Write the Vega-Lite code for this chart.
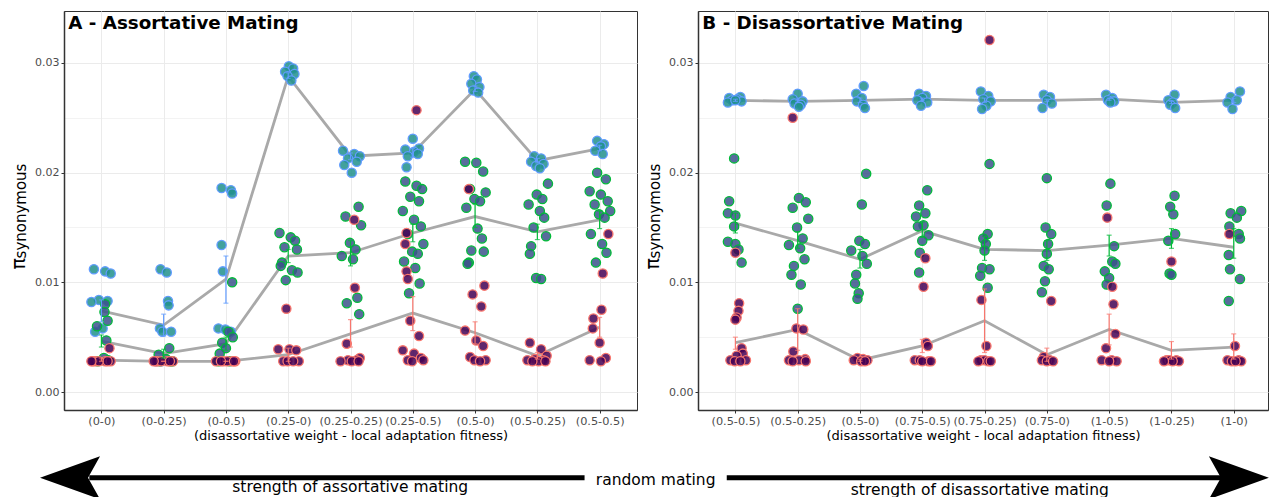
{
"$schema": "https://vega.github.io/schema/vega-lite/v6.json",
"padding": {"left": 9, "top": 10, "right": 0, "bottom": 0},
"background": "white",
"config": {
 "font": "DejaVu Sans",
 "view": {"stroke": "#333333", "strokeWidth": 1},
 "axis": {"labelColor": "#4D4D4D", "labelFontSize": 11.3, "labelFont": "DejaVu Sans", "tickColor": "#333333", "tickSize": 3, "labelPadding": 2, "domainColor": "#333333", "domainWidth": 1.5, "gridColor": "#EBEBEB", "titleFont": "DejaVu Sans", "titleFontWeight": "normal", "titleColor": "#000000"},
 "axisX": {"titleFontSize": 13, "titlePadding": 3},
 "axisY": {"titleFontSize": 15, "titlePadding": 6, "labelFontSize": 11}
},
"datasets": {
"pts": [
{"p":"A","x":0.88,"y":0.0112,"g":"b"},{"p":"A","x":1.06,"y":0.0110,"g":"b"},{"p":"A","x":1.15,"y":0.0108,"g":"b"},{"p":"A","x":0.96,"y":0.0084,"g":"b"},{"p":"A","x":1.10,"y":0.0083,"g":"b"},{"p":"A","x":0.84,"y":0.0082,"g":"b"},{"p":"A","x":1.02,"y":0.0058,"g":"b"},{"p":"A","x":0.90,"y":0.0055,"g":"b"},
{"p":"A","x":1.06,"y":0.0080,"g":"g"},{"p":"A","x":1.05,"y":0.0073,"g":"g"},{"p":"A","x":1.10,"y":0.0065,"g":"g"},{"p":"A","x":0.93,"y":0.0060,"g":"g"},{"p":"A","x":1.08,"y":0.0047,"g":"g"},{"p":"A","x":1.04,"y":0.0031,"g":"g"},{"p":"A","x":1.11,"y":0.0029,"g":"g"},{"p":"A","x":0.94,"y":0.0028,"g":"g"},
{"p":"A","x":1.13,"y":0.0040,"g":"r"},{"p":"A","x":0.90,"y":0.0028,"g":"r"},{"p":"A","x":0.86,"y":0.0028,"g":"r"},{"p":"A","x":1.06,"y":0.0028,"g":"r"},{"p":"A","x":1.15,"y":0.0028,"g":"r"},{"p":"A","x":0.96,"y":0.0028,"g":"r"},{"p":"A","x":1.10,"y":0.0028,"g":"r"},{"p":"A","x":0.84,"y":0.0028,"g":"r"},
{"p":"A","x":1.95,"y":0.0112,"g":"b"},{"p":"A","x":2.05,"y":0.0109,"g":"b"},{"p":"A","x":2.07,"y":0.0083,"g":"b"},{"p":"A","x":2.08,"y":0.0079,"g":"b"},{"p":"A","x":1.94,"y":0.0058,"g":"b"},{"p":"A","x":1.98,"y":0.0055,"g":"b"},{"p":"A","x":2.12,"y":0.0055,"g":"b"},{"p":"A","x":1.88,"y":0.0028,"g":"b"},{"p":"A","x":1.96,"y":0.0028,"g":"b"},
{"p":"A","x":2.09,"y":0.0040,"g":"g"},{"p":"A","x":1.92,"y":0.0034,"g":"g"},{"p":"A","x":2.04,"y":0.0030,"g":"g"},{"p":"A","x":2.11,"y":0.0028,"g":"g"},{"p":"A","x":1.94,"y":0.0028,"g":"g"},{"p":"A","x":2.14,"y":0.0028,"g":"g"},
{"p":"A","x":1.90,"y":0.0028,"g":"r"},{"p":"A","x":1.88,"y":0.0028,"g":"r"},{"p":"A","x":2.06,"y":0.0028,"g":"r"},{"p":"A","x":2.15,"y":0.0028,"g":"r"},{"p":"A","x":1.96,"y":0.0028,"g":"r"},{"p":"A","x":2.10,"y":0.0028,"g":"r"},{"p":"A","x":1.84,"y":0.0028,"g":"r"},
{"p":"A","x":2.93,"y":0.0186,"g":"b"},{"p":"A","x":3.08,"y":0.0184,"g":"b"},{"p":"A","x":3.10,"y":0.0181,"g":"b"},{"p":"A","x":2.93,"y":0.0134,"g":"b"},{"p":"A","x":2.95,"y":0.0110,"g":"b"},{"p":"A","x":2.88,"y":0.0058,"g":"b"},{"p":"A","x":2.99,"y":0.0057,"g":"b"},{"p":"A","x":3.08,"y":0.0055,"g":"b"},
{"p":"A","x":3.10,"y":0.0100,"g":"g"},{"p":"A","x":3.04,"y":0.0055,"g":"g"},{"p":"A","x":3.11,"y":0.0050,"g":"g"},{"p":"A","x":2.94,"y":0.0045,"g":"g"},{"p":"A","x":3.00,"y":0.0040,"g":"g"},{"p":"A","x":2.90,"y":0.0035,"g":"g"},{"p":"A","x":2.88,"y":0.0028,"g":"g"},{"p":"A","x":3.06,"y":0.0028,"g":"g"},
{"p":"A","x":3.15,"y":0.0028,"g":"r"},{"p":"A","x":2.96,"y":0.0028,"g":"r"},{"p":"A","x":3.10,"y":0.0028,"g":"r"},{"p":"A","x":2.84,"y":0.0028,"g":"r"},{"p":"A","x":3.02,"y":0.0028,"g":"r"},{"p":"A","x":3.13,"y":0.0028,"g":"r"},{"p":"A","x":2.92,"y":0.0028,"g":"r"},
{"p":"A","x":4.01,"y":0.0297,"g":"b"},{"p":"A","x":4.08,"y":0.0295,"g":"b"},{"p":"A","x":3.95,"y":0.0292,"g":"b"},{"p":"A","x":4.10,"y":0.0290,"g":"b"},{"p":"A","x":3.99,"y":0.0288,"g":"b"},{"p":"A","x":4.05,"y":0.0284,"g":"b"},
{"p":"A","x":3.86,"y":0.0145,"g":"g"},{"p":"A","x":4.04,"y":0.0141,"g":"g"},{"p":"A","x":4.11,"y":0.0138,"g":"g"},{"p":"A","x":3.94,"y":0.0132,"g":"g"},{"p":"A","x":4.14,"y":0.0130,"g":"g"},{"p":"A","x":3.90,"y":0.0118,"g":"g"},{"p":"A","x":3.88,"y":0.0115,"g":"g"},{"p":"A","x":4.06,"y":0.0111,"g":"g"},{"p":"A","x":4.15,"y":0.0109,"g":"g"},{"p":"A","x":3.96,"y":0.0102,"g":"g"},
{"p":"A","x":3.97,"y":0.0076,"g":"r"},{"p":"A","x":3.84,"y":0.0039,"g":"r"},{"p":"A","x":4.02,"y":0.0039,"g":"r"},{"p":"A","x":4.13,"y":0.0038,"g":"r"},{"p":"A","x":3.92,"y":0.0028,"g":"r"},{"p":"A","x":4.17,"y":0.0028,"g":"r"},{"p":"A","x":3.99,"y":0.0028,"g":"r"},{"p":"A","x":4.08,"y":0.0028,"g":"r"},
{"p":"A","x":4.88,"y":0.0220,"g":"b"},{"p":"A","x":5.06,"y":0.0217,"g":"b"},{"p":"A","x":5.15,"y":0.0215,"g":"b"},{"p":"A","x":4.96,"y":0.0213,"g":"b"},{"p":"A","x":5.10,"y":0.0210,"g":"b"},{"p":"A","x":4.90,"y":0.0207,"g":"b"},{"p":"A","x":5.02,"y":0.0200,"g":"b"},
{"p":"A","x":5.13,"y":0.0169,"g":"g"},{"p":"A","x":4.92,"y":0.0160,"g":"g"},{"p":"A","x":5.17,"y":0.0152,"g":"g"},{"p":"A","x":4.99,"y":0.0136,"g":"g"},{"p":"A","x":5.08,"y":0.0130,"g":"g"},{"p":"A","x":4.86,"y":0.0124,"g":"g"},{"p":"A","x":5.04,"y":0.0121,"g":"g"},{"p":"A","x":5.11,"y":0.0086,"g":"g"},{"p":"A","x":4.94,"y":0.0081,"g":"g"},{"p":"A","x":5.14,"y":0.0071,"g":"g"},
{"p":"A","x":5.06,"y":0.0157,"g":"r"},{"p":"A","x":5.07,"y":0.0095,"g":"r"},{"p":"A","x":4.94,"y":0.0044,"g":"r"},{"p":"A","x":5.15,"y":0.0031,"g":"r"},{"p":"A","x":4.96,"y":0.0029,"g":"r"},{"p":"A","x":5.10,"y":0.0029,"g":"r"},{"p":"A","x":4.84,"y":0.0028,"g":"r"},{"p":"A","x":5.02,"y":0.0028,"g":"r"},{"p":"A","x":5.13,"y":0.0028,"g":"r"},
{"p":"A","x":6.00,"y":0.0231,"g":"b"},{"p":"A","x":6.10,"y":0.0222,"g":"b"},{"p":"A","x":5.88,"y":0.0221,"g":"b"},{"p":"A","x":6.02,"y":0.0219,"g":"b"},{"p":"A","x":6.08,"y":0.0217,"g":"b"},{"p":"A","x":5.92,"y":0.0215,"g":"b"},{"p":"A","x":5.90,"y":0.0205,"g":"b"},
{"p":"A","x":5.88,"y":0.0192,"g":"g"},{"p":"A","x":6.06,"y":0.0188,"g":"g"},{"p":"A","x":6.15,"y":0.0185,"g":"g"},{"p":"A","x":5.96,"y":0.0178,"g":"g"},{"p":"A","x":6.10,"y":0.0174,"g":"g"},{"p":"A","x":5.84,"y":0.0165,"g":"g"},{"p":"A","x":6.02,"y":0.0157,"g":"g"},{"p":"A","x":6.13,"y":0.0151,"g":"g"},{"p":"A","x":5.92,"y":0.0144,"g":"g"},{"p":"A","x":6.17,"y":0.0135,"g":"g"},{"p":"A","x":5.99,"y":0.0128,"g":"g"},{"p":"A","x":6.08,"y":0.0126,"g":"g"},{"p":"A","x":5.86,"y":0.0119,"g":"g"},{"p":"A","x":6.04,"y":0.0113,"g":"g"},{"p":"A","x":6.11,"y":0.0099,"g":"g"},{"p":"A","x":5.94,"y":0.0090,"g":"g"},
{"p":"A","x":6.06,"y":0.0257,"g":"r"},{"p":"A","x":5.90,"y":0.0145,"g":"r"},{"p":"A","x":5.88,"y":0.0135,"g":"r"},{"p":"A","x":5.90,"y":0.0110,"g":"r"},{"p":"A","x":5.92,"y":0.0103,"g":"r"},{"p":"A","x":5.96,"y":0.0065,"g":"r"},{"p":"A","x":6.10,"y":0.0051,"g":"r"},{"p":"A","x":5.84,"y":0.0038,"g":"r"},{"p":"A","x":6.02,"y":0.0035,"g":"r"},{"p":"A","x":6.13,"y":0.0031,"g":"r"},{"p":"A","x":5.92,"y":0.0029,"g":"r"},{"p":"A","x":6.17,"y":0.0029,"g":"r"},{"p":"A","x":5.99,"y":0.0028,"g":"r"},
{"p":"A","x":6.98,"y":0.0288,"g":"b"},{"p":"A","x":7.03,"y":0.0285,"g":"b"},{"p":"A","x":6.94,"y":0.0281,"g":"b"},{"p":"A","x":7.07,"y":0.0278,"g":"b"},{"p":"A","x":6.97,"y":0.0275,"g":"b"},{"p":"A","x":7.05,"y":0.0273,"g":"b"},
{"p":"A","x":6.84,"y":0.0210,"g":"g"},{"p":"A","x":7.02,"y":0.0209,"g":"g"},{"p":"A","x":7.13,"y":0.0201,"g":"g"},{"p":"A","x":6.92,"y":0.0185,"g":"g"},{"p":"A","x":7.17,"y":0.0182,"g":"g"},{"p":"A","x":6.99,"y":0.0176,"g":"g"},{"p":"A","x":7.08,"y":0.0174,"g":"g"},{"p":"A","x":6.86,"y":0.0168,"g":"g"},{"p":"A","x":7.04,"y":0.0149,"g":"g"},{"p":"A","x":7.11,"y":0.0140,"g":"g"},{"p":"A","x":6.94,"y":0.0129,"g":"g"},{"p":"A","x":7.14,"y":0.0128,"g":"g"},{"p":"A","x":6.90,"y":0.0118,"g":"g"},{"p":"A","x":6.88,"y":0.0117,"g":"g"},
{"p":"A","x":6.90,"y":0.0185,"g":"r"},{"p":"A","x":7.15,"y":0.0097,"g":"r"},{"p":"A","x":6.96,"y":0.0089,"g":"r"},{"p":"A","x":7.10,"y":0.0078,"g":"r"},{"p":"A","x":6.84,"y":0.0056,"g":"r"},{"p":"A","x":7.02,"y":0.0047,"g":"r"},{"p":"A","x":7.13,"y":0.0042,"g":"r"},{"p":"A","x":6.92,"y":0.0032,"g":"r"},{"p":"A","x":7.17,"y":0.0029,"g":"r"},{"p":"A","x":6.99,"y":0.0029,"g":"r"},{"p":"A","x":7.08,"y":0.0028,"g":"r"},
{"p":"A","x":7.95,"y":0.0215,"g":"b"},{"p":"A","x":8.06,"y":0.0213,"g":"b"},{"p":"A","x":7.90,"y":0.0210,"g":"b"},{"p":"A","x":8.10,"y":0.0208,"g":"b"},{"p":"A","x":7.98,"y":0.0206,"g":"b"},{"p":"A","x":8.04,"y":0.0204,"g":"b"},
{"p":"A","x":8.17,"y":0.0190,"g":"g"},{"p":"A","x":7.99,"y":0.0180,"g":"g"},{"p":"A","x":8.08,"y":0.0176,"g":"g"},{"p":"A","x":7.86,"y":0.0171,"g":"g"},{"p":"A","x":8.04,"y":0.0165,"g":"g"},{"p":"A","x":8.11,"y":0.0159,"g":"g"},{"p":"A","x":7.94,"y":0.0150,"g":"g"},{"p":"A","x":8.14,"y":0.0142,"g":"g"},{"p":"A","x":7.90,"y":0.0133,"g":"g"},{"p":"A","x":7.88,"y":0.0126,"g":"g"},{"p":"A","x":7.98,"y":0.0104,"g":"g"},{"p":"A","x":8.06,"y":0.0103,"g":"g"},
{"p":"A","x":7.88,"y":0.0045,"g":"r"},{"p":"A","x":8.06,"y":0.0039,"g":"r"},{"p":"A","x":8.15,"y":0.0033,"g":"r"},{"p":"A","x":7.96,"y":0.0030,"g":"r"},{"p":"A","x":8.10,"y":0.0029,"g":"r"},{"p":"A","x":7.84,"y":0.0029,"g":"r"},{"p":"A","x":8.02,"y":0.0028,"g":"r"},{"p":"A","x":8.13,"y":0.0028,"g":"r"},{"p":"A","x":7.92,"y":0.0028,"g":"r"},
{"p":"A","x":8.96,"y":0.0229,"g":"b"},{"p":"A","x":9.07,"y":0.0226,"g":"b"},{"p":"A","x":9.02,"y":0.0224,"g":"b"},{"p":"A","x":8.93,"y":0.0220,"g":"b"},{"p":"A","x":9.05,"y":0.0217,"g":"b"},
{"p":"A","x":8.96,"y":0.0200,"g":"g"},{"p":"A","x":9.10,"y":0.0194,"g":"g"},{"p":"A","x":8.84,"y":0.0183,"g":"g"},{"p":"A","x":9.02,"y":0.0180,"g":"g"},{"p":"A","x":9.13,"y":0.0174,"g":"g"},{"p":"A","x":8.92,"y":0.0171,"g":"g"},{"p":"A","x":9.17,"y":0.0165,"g":"g"},{"p":"A","x":8.99,"y":0.0162,"g":"g"},{"p":"A","x":9.08,"y":0.0159,"g":"g"},{"p":"A","x":8.86,"y":0.0144,"g":"g"},{"p":"A","x":9.04,"y":0.0135,"g":"g"},{"p":"A","x":9.11,"y":0.0127,"g":"g"},{"p":"A","x":8.94,"y":0.0118,"g":"g"},
{"p":"A","x":9.14,"y":0.0144,"g":"r"},{"p":"A","x":9.05,"y":0.0108,"g":"r"},{"p":"A","x":9.03,"y":0.0075,"g":"r"},{"p":"A","x":8.90,"y":0.0067,"g":"r"},{"p":"A","x":8.89,"y":0.0058,"g":"r"},{"p":"A","x":9.00,"y":0.0045,"g":"r"},{"p":"A","x":9.10,"y":0.0031,"g":"r"},{"p":"A","x":8.84,"y":0.0029,"g":"r"},{"p":"A","x":9.02,"y":0.0028,"g":"r"},
{"p":"B","x":1.08,"y":0.0269,"g":"b"},{"p":"B","x":0.90,"y":0.0268,"g":"b"},{"p":"B","x":1.03,"y":0.0267,"g":"b"},{"p":"B","x":0.95,"y":0.0266,"g":"b"},{"p":"B","x":1.10,"y":0.0265,"g":"b"},{"p":"B","x":0.88,"y":0.0264,"g":"b"},{"p":"B","x":1.00,"y":0.0266,"g":"b"},
{"p":"B","x":0.98,"y":0.0213,"g":"g"},{"p":"B","x":0.90,"y":0.0174,"g":"g"},{"p":"B","x":0.88,"y":0.0163,"g":"g"},{"p":"B","x":1.00,"y":0.0161,"g":"g"},{"p":"B","x":0.98,"y":0.0151,"g":"g"},{"p":"B","x":0.88,"y":0.0137,"g":"g"},{"p":"B","x":1.00,"y":0.0135,"g":"g"},{"p":"B","x":1.05,"y":0.0130,"g":"g"},{"p":"B","x":1.10,"y":0.0118,"g":"g"},
{"p":"B","x":1.00,"y":0.0127,"g":"r"},{"p":"B","x":1.06,"y":0.0081,"g":"r"},{"p":"B","x":1.05,"y":0.0074,"g":"r"},{"p":"B","x":1.02,"y":0.0068,"g":"r"},{"p":"B","x":1.00,"y":0.0066,"g":"r"},{"p":"B","x":1.10,"y":0.0040,"g":"r"},{"p":"B","x":1.12,"y":0.0035,"g":"r"},{"p":"B","x":1.02,"y":0.0033,"g":"r"},{"p":"B","x":0.92,"y":0.0029,"g":"r"},{"p":"B","x":1.17,"y":0.0029,"g":"r"},{"p":"B","x":0.99,"y":0.0028,"g":"r"},{"p":"B","x":1.08,"y":0.0028,"g":"r"},
{"p":"B","x":2.00,"y":0.0272,"g":"b"},{"p":"B","x":1.92,"y":0.0267,"g":"b"},{"p":"B","x":2.08,"y":0.0265,"g":"b"},{"p":"B","x":1.95,"y":0.0263,"g":"b"},{"p":"B","x":2.05,"y":0.0262,"g":"b"},{"p":"B","x":2.02,"y":0.0260,"g":"b"},
{"p":"B","x":2.02,"y":0.0177,"g":"g"},{"p":"B","x":2.13,"y":0.0173,"g":"g"},{"p":"B","x":1.92,"y":0.0168,"g":"g"},{"p":"B","x":2.17,"y":0.0158,"g":"g"},{"p":"B","x":1.99,"y":0.0150,"g":"g"},{"p":"B","x":2.08,"y":0.0140,"g":"g"},{"p":"B","x":1.86,"y":0.0134,"g":"g"},{"p":"B","x":2.04,"y":0.0131,"g":"g"},{"p":"B","x":2.11,"y":0.0121,"g":"g"},{"p":"B","x":1.94,"y":0.0115,"g":"g"},{"p":"B","x":1.90,"y":0.0107,"g":"g"},{"p":"B","x":2.05,"y":0.0098,"g":"g"},{"p":"B","x":2.00,"y":0.0076,"g":"g"},
{"p":"B","x":1.92,"y":0.0250,"g":"r"},{"p":"B","x":1.98,"y":0.0058,"g":"r"},{"p":"B","x":2.09,"y":0.0057,"g":"r"},{"p":"B","x":1.93,"y":0.0037,"g":"r"},{"p":"B","x":2.12,"y":0.0030,"g":"r"},{"p":"B","x":1.86,"y":0.0029,"g":"r"},{"p":"B","x":2.02,"y":0.0029,"g":"r"},{"p":"B","x":2.13,"y":0.0028,"g":"r"},{"p":"B","x":1.92,"y":0.0028,"g":"r"},
{"p":"B","x":3.06,"y":0.0279,"g":"b"},{"p":"B","x":2.94,"y":0.0272,"g":"b"},{"p":"B","x":3.03,"y":0.0268,"g":"b"},{"p":"B","x":2.95,"y":0.0265,"g":"b"},{"p":"B","x":3.05,"y":0.0262,"g":"b"},{"p":"B","x":3.08,"y":0.0259,"g":"b"},
{"p":"B","x":3.10,"y":0.0199,"g":"g"},{"p":"B","x":3.03,"y":0.0171,"g":"g"},{"p":"B","x":2.99,"y":0.0138,"g":"g"},{"p":"B","x":3.08,"y":0.0135,"g":"g"},{"p":"B","x":2.86,"y":0.0129,"g":"g"},{"p":"B","x":3.04,"y":0.0124,"g":"g"},{"p":"B","x":3.11,"y":0.0117,"g":"g"},{"p":"B","x":2.94,"y":0.0107,"g":"g"},{"p":"B","x":2.92,"y":0.0099,"g":"g"},{"p":"B","x":2.98,"y":0.0090,"g":"g"},{"p":"B","x":2.96,"y":0.0085,"g":"g"},
{"p":"B","x":2.96,"y":0.0031,"g":"r"},{"p":"B","x":3.05,"y":0.0030,"g":"r"},{"p":"B","x":3.12,"y":0.0029,"g":"r"},{"p":"B","x":2.90,"y":0.0029,"g":"r"},{"p":"B","x":3.02,"y":0.0028,"g":"r"},{"p":"B","x":3.08,"y":0.0028,"g":"r"},
{"p":"B","x":3.95,"y":0.0272,"g":"b"},{"p":"B","x":4.06,"y":0.0270,"g":"b"},{"p":"B","x":4.00,"y":0.0268,"g":"b"},{"p":"B","x":3.92,"y":0.0266,"g":"b"},{"p":"B","x":4.08,"y":0.0264,"g":"b"},{"p":"B","x":3.98,"y":0.0261,"g":"b"},
{"p":"B","x":4.08,"y":0.0184,"g":"g"},{"p":"B","x":3.95,"y":0.0170,"g":"g"},{"p":"B","x":4.05,"y":0.0163,"g":"g"},{"p":"B","x":3.90,"y":0.0160,"g":"g"},{"p":"B","x":4.02,"y":0.0152,"g":"g"},{"p":"B","x":3.93,"y":0.0151,"g":"g"},{"p":"B","x":4.10,"y":0.0143,"g":"g"},{"p":"B","x":4.00,"y":0.0138,"g":"g"},{"p":"B","x":3.96,"y":0.0127,"g":"g"},{"p":"B","x":3.95,"y":0.0109,"g":"g"},
{"p":"B","x":4.05,"y":0.0122,"g":"r"},{"p":"B","x":4.02,"y":0.0096,"g":"r"},{"p":"B","x":4.06,"y":0.0045,"g":"r"},{"p":"B","x":4.09,"y":0.0042,"g":"r"},{"p":"B","x":3.88,"y":0.0029,"g":"r"},{"p":"B","x":3.96,"y":0.0029,"g":"r"},{"p":"B","x":4.10,"y":0.0028,"g":"r"},{"p":"B","x":4.00,"y":0.0028,"g":"r"},{"p":"B","x":4.14,"y":0.0028,"g":"r"},
{"p":"B","x":4.94,"y":0.0274,"g":"b"},{"p":"B","x":5.06,"y":0.0270,"g":"b"},{"p":"B","x":4.98,"y":0.0267,"g":"b"},{"p":"B","x":5.10,"y":0.0265,"g":"b"},{"p":"B","x":5.03,"y":0.0261,"g":"b"},{"p":"B","x":4.96,"y":0.0258,"g":"b"},
{"p":"B","x":5.08,"y":0.0208,"g":"g"},{"p":"B","x":5.05,"y":0.0144,"g":"g"},{"p":"B","x":4.98,"y":0.0140,"g":"g"},{"p":"B","x":5.02,"y":0.0135,"g":"g"},{"p":"B","x":5.00,"y":0.0129,"g":"g"},{"p":"B","x":4.96,"y":0.0113,"g":"g"},{"p":"B","x":5.08,"y":0.0112,"g":"g"},{"p":"B","x":4.93,"y":0.0106,"g":"g"},{"p":"B","x":5.05,"y":0.0095,"g":"g"},
{"p":"B","x":5.08,"y":0.0321,"g":"r"},{"p":"B","x":4.95,"y":0.0084,"g":"r"},{"p":"B","x":5.03,"y":0.0042,"g":"r"},{"p":"B","x":4.94,"y":0.0029,"g":"r"},{"p":"B","x":5.00,"y":0.0029,"g":"r"},{"p":"B","x":5.06,"y":0.0028,"g":"r"},{"p":"B","x":4.90,"y":0.0028,"g":"r"},{"p":"B","x":5.10,"y":0.0028,"g":"r"},
{"p":"B","x":5.95,"y":0.0271,"g":"b"},{"p":"B","x":6.05,"y":0.0269,"g":"b"},{"p":"B","x":6.00,"y":0.0266,"g":"b"},{"p":"B","x":6.08,"y":0.0263,"g":"b"},{"p":"B","x":5.93,"y":0.0259,"g":"b"},
{"p":"B","x":6.00,"y":0.0195,"g":"g"},{"p":"B","x":5.98,"y":0.0150,"g":"g"},{"p":"B","x":6.07,"y":0.0144,"g":"g"},{"p":"B","x":6.02,"y":0.0135,"g":"g"},{"p":"B","x":6.00,"y":0.0126,"g":"g"},{"p":"B","x":5.95,"y":0.0115,"g":"g"},{"p":"B","x":6.03,"y":0.0112,"g":"g"},{"p":"B","x":5.97,"y":0.0101,"g":"g"},{"p":"B","x":5.92,"y":0.0091,"g":"g"},
{"p":"B","x":6.07,"y":0.0083,"g":"r"},{"p":"B","x":5.95,"y":0.0032,"g":"r"},{"p":"B","x":6.05,"y":0.0029,"g":"r"},{"p":"B","x":5.92,"y":0.0029,"g":"r"},{"p":"B","x":6.00,"y":0.0028,"g":"r"},{"p":"B","x":6.10,"y":0.0028,"g":"r"},
{"p":"B","x":6.95,"y":0.0271,"g":"b"},{"p":"B","x":7.05,"y":0.0268,"g":"b"},{"p":"B","x":6.98,"y":0.0266,"g":"b"},{"p":"B","x":7.08,"y":0.0265,"g":"b"},{"p":"B","x":7.02,"y":0.0264,"g":"b"},
{"p":"B","x":7.02,"y":0.0190,"g":"g"},{"p":"B","x":6.96,"y":0.0170,"g":"g"},{"p":"B","x":7.08,"y":0.0133,"g":"g"},{"p":"B","x":7.05,"y":0.0119,"g":"g"},{"p":"B","x":7.10,"y":0.0117,"g":"g"},{"p":"B","x":6.93,"y":0.0110,"g":"g"},{"p":"B","x":7.00,"y":0.0104,"g":"g"},{"p":"B","x":6.96,"y":0.0098,"g":"g"},
{"p":"B","x":6.97,"y":0.0159,"g":"r"},{"p":"B","x":7.05,"y":0.0096,"g":"r"},{"p":"B","x":7.07,"y":0.0080,"g":"r"},{"p":"B","x":7.10,"y":0.0053,"g":"r"},{"p":"B","x":6.95,"y":0.0040,"g":"r"},{"p":"B","x":6.88,"y":0.0029,"g":"r"},{"p":"B","x":7.04,"y":0.0029,"g":"r"},{"p":"B","x":7.12,"y":0.0028,"g":"r"},{"p":"B","x":7.00,"y":0.0028,"g":"r"},
{"p":"B","x":8.05,"y":0.0271,"g":"b"},{"p":"B","x":7.95,"y":0.0266,"g":"b"},{"p":"B","x":8.02,"y":0.0264,"g":"b"},{"p":"B","x":7.98,"y":0.0262,"g":"b"},{"p":"B","x":8.06,"y":0.0259,"g":"b"},
{"p":"B","x":8.05,"y":0.0179,"g":"g"},{"p":"B","x":7.98,"y":0.0169,"g":"g"},{"p":"B","x":8.03,"y":0.0162,"g":"g"},{"p":"B","x":8.06,"y":0.0144,"g":"g"},{"p":"B","x":7.95,"y":0.0138,"g":"g"},{"p":"B","x":7.97,"y":0.0108,"g":"g"},{"p":"B","x":8.00,"y":0.0107,"g":"g"},
{"p":"B","x":8.00,"y":0.0119,"g":"r"},{"p":"B","x":7.92,"y":0.0029,"g":"r"},{"p":"B","x":8.08,"y":0.0029,"g":"r"},{"p":"B","x":7.97,"y":0.0029,"g":"r"},{"p":"B","x":8.12,"y":0.0028,"g":"r"},{"p":"B","x":8.02,"y":0.0028,"g":"r"},{"p":"B","x":7.88,"y":0.0028,"g":"r"},
{"p":"B","x":9.10,"y":0.0274,"g":"b"},{"p":"B","x":8.95,"y":0.0269,"g":"b"},{"p":"B","x":9.05,"y":0.0266,"g":"b"},{"p":"B","x":8.90,"y":0.0264,"g":"b"},{"p":"B","x":8.98,"y":0.0258,"g":"b"},
{"p":"B","x":9.12,"y":0.0165,"g":"g"},{"p":"B","x":8.95,"y":0.0163,"g":"g"},{"p":"B","x":9.05,"y":0.0159,"g":"g"},{"p":"B","x":8.93,"y":0.0151,"g":"g"},{"p":"B","x":9.08,"y":0.0144,"g":"g"},{"p":"B","x":9.10,"y":0.0140,"g":"g"},{"p":"B","x":8.92,"y":0.0125,"g":"g"},{"p":"B","x":8.94,"y":0.0112,"g":"g"},{"p":"B","x":9.10,"y":0.0103,"g":"g"},{"p":"B","x":8.92,"y":0.0083,"g":"g"},
{"p":"B","x":8.93,"y":0.0144,"g":"r"},{"p":"B","x":9.02,"y":0.0042,"g":"r"},{"p":"B","x":8.90,"y":0.0029,"g":"r"},{"p":"B","x":9.08,"y":0.0029,"g":"r"},{"p":"B","x":8.97,"y":0.0028,"g":"r"},{"p":"B","x":9.12,"y":0.0028,"g":"r"},{"p":"B","x":9.03,"y":0.0028,"g":"r"}
],
"st": [
{"p":"A","x":1,"g":"b","m":0.0074,"lo":0.0064,"hi":0.0084},{"p":"A","x":2,"g":"b","m":0.0061,"lo":0.0051,"hi":0.0071},{"p":"A","x":3,"g":"b","m":0.0103,"lo":0.0081,"hi":0.0124},{"p":"A","x":4,"g":"b","m":0.0288,"lo":0.0286,"hi":0.0291},{"p":"A","x":5,"g":"b","m":0.0215,"lo":0.0212,"hi":0.0218},{"p":"A","x":6,"g":"b","m":0.0218,"lo":0.0214,"hi":0.0222},{"p":"A","x":7,"g":"b","m":0.0276,"lo":0.0274,"hi":0.0279},{"p":"A","x":8,"g":"b","m":0.0211,"lo":0.0209,"hi":0.0213},{"p":"A","x":9,"g":"b","m":0.0222,"lo":0.0220,"hi":0.0225},
{"p":"A","x":1,"g":"g","m":0.00465,"lo":0.0041,"hi":0.0052},{"p":"A","x":2,"g":"g","m":0.0035,"lo":0.0031,"hi":0.0039},{"p":"A","x":3,"g":"g","m":0.0044,"lo":0.0038,"hi":0.0050},{"p":"A","x":4,"g":"g","m":0.0124,"lo":0.0118,"hi":0.0130},{"p":"A","x":5,"g":"g","m":0.0127,"lo":0.0115,"hi":0.0138},{"p":"A","x":6,"g":"g","m":0.0145,"lo":0.0137,"hi":0.0153},{"p":"A","x":7,"g":"g","m":0.0160,"lo":0.0150,"hi":0.0171},{"p":"A","x":8,"g":"g","m":0.0146,"lo":0.0139,"hi":0.0153},{"p":"A","x":9,"g":"g","m":0.0157,"lo":0.0149,"hi":0.0165},
{"p":"A","x":1,"g":"r","m":0.0029,"lo":0.0028,"hi":0.0031},{"p":"A","x":2,"g":"r","m":0.0028,"lo":0.0028,"hi":0.0028},{"p":"A","x":3,"g":"r","m":0.0028,"lo":0.0028,"hi":0.0028},{"p":"A","x":4,"g":"r","m":0.0034,"lo":0.0028,"hi":0.0040},{"p":"A","x":5,"g":"r","m":0.0053,"lo":0.0041,"hi":0.0066},{"p":"A","x":6,"g":"r","m":0.0072,"lo":0.0056,"hi":0.0087},{"p":"A","x":7,"g":"r","m":0.0054,"lo":0.0044,"hi":0.0064},{"p":"A","x":8,"g":"r","m":0.0033,"lo":0.0030,"hi":0.0036},{"p":"A","x":9,"g":"r","m":0.0059,"lo":0.0050,"hi":0.0068},
{"p":"B","x":1,"g":"b","m":0.0266,"lo":0.0265,"hi":0.0267},{"p":"B","x":2,"g":"b","m":0.0265,"lo":0.0264,"hi":0.0266},{"p":"B","x":3,"g":"b","m":0.0266,"lo":0.0264,"hi":0.0268},{"p":"B","x":4,"g":"b","m":0.0267,"lo":0.0266,"hi":0.0268},{"p":"B","x":5,"g":"b","m":0.0266,"lo":0.0264,"hi":0.0268},{"p":"B","x":6,"g":"b","m":0.0266,"lo":0.0265,"hi":0.0267},{"p":"B","x":7,"g":"b","m":0.0267,"lo":0.0266,"hi":0.0268},{"p":"B","x":8,"g":"b","m":0.0264,"lo":0.0263,"hi":0.0265},{"p":"B","x":9,"g":"b","m":0.0266,"lo":0.0264,"hi":0.0268},
{"p":"B","x":1,"g":"g","m":0.0154,"lo":0.0145,"hi":0.0163},{"p":"B","x":2,"g":"g","m":0.0138,"lo":0.0131,"hi":0.0146},{"p":"B","x":3,"g":"g","m":0.0121,"lo":0.0113,"hi":0.0130},{"p":"B","x":4,"g":"g","m":0.0147,"lo":0.0141,"hi":0.0155},{"p":"B","x":5,"g":"g","m":0.0130,"lo":0.0120,"hi":0.0142},{"p":"B","x":6,"g":"g","m":0.0129,"lo":0.0120,"hi":0.0138},{"p":"B","x":7,"g":"g","m":0.0134,"lo":0.0124,"hi":0.0143},{"p":"B","x":8,"g":"g","m":0.0140,"lo":0.0131,"hi":0.0149},{"p":"B","x":9,"g":"g","m":0.0132,"lo":0.0122,"hi":0.0149},
{"p":"B","x":1,"g":"r","m":0.0045,"lo":0.0039,"hi":0.0050},{"p":"B","x":2,"g":"r","m":0.0057,"lo":0.0038,"hi":0.0076},{"p":"B","x":3,"g":"r","m":0.0029,"lo":0.0028,"hi":0.0030},{"p":"B","x":4,"g":"r","m":0.0042,"lo":0.0036,"hi":0.0048},{"p":"B","x":5,"g":"r","m":0.0065,"lo":0.0036,"hi":0.0094},{"p":"B","x":6,"g":"r","m":0.0034,"lo":0.0028,"hi":0.0040},{"p":"B","x":7,"g":"r","m":0.0057,"lo":0.0043,"hi":0.0071},{"p":"B","x":8,"g":"r","m":0.0038,"lo":0.0030,"hi":0.0046},{"p":"B","x":9,"g":"r","m":0.0041,"lo":0.0030,"hi":0.0053}
]
},
"spacing": 13,
"vconcat": [
{
"spacing": 5,
"hconcat": [
{
"width": 573, "height": 399,
"layer": [
{"data": {"name": "st"}, "transform": [{"filter": "datum.p=='A'"}],
 "mark": {"type": "line", "color": "#A9A9A9", "strokeWidth": 2.8},
 "encoding": {
  "x": {"field": "x", "type": "quantitative", "title": "(disassortative weight - local adaptation fitness)", "scale": {"domain": [0.4, 9.6], "nice": false, "zero": false},
        "axis": {"values": [1,2,3,4,5,6,7,8,9], "labelExpr": "['(0-0)','(0-0.25)','(0-0.5)','(0.25-0)','(0.25-0.25)','(0.25-0.5)','(0.5-0)','(0.5-0.25)','(0.5-0.5)'][datum.value-1]", "labelFlush": false, "labelOverlap": false}},
  "y": {"field": "m", "type": "quantitative", "title": "synonymous", "scale": {"domain": [-0.00164, 0.03474], "nice": false, "zero": false},
        "axis": {"values": [0,0.005,0.01,0.015,0.02,0.025,0.03], "labelExpr": "round(datum.value*200)%2==0 ? format(datum.value,'.2f') : ''",
                 "tickColor": {"condition": {"test": "round(datum.value*200)%2==1", "value": "transparent"}, "value": "#333333"},
                 "gridWidth": {"condition": {"test": "round(datum.value*200)%2==1", "value": 0.6}, "value": 1.1}}},
  "detail": {"field": "g"}
 }},
{"data": {"name": "pts"}, "transform": [{"filter": "datum.p=='A'"}],
 "mark": {"type": "circle", "size": 85, "strokeWidth": 1.3, "fillOpacity": 0.85, "strokeOpacity": 1},
 "encoding": {
  "x": {"field": "x", "type": "quantitative", "title": "(disassortative weight - local adaptation fitness)"},
  "y": {"field": "y", "type": "quantitative", "title": "synonymous"},
  "fill": {"field": "g", "type": "nominal", "scale": {"domain": ["r","g","b"], "range": ["#440154","#3B528B","#21908C"]}, "legend": null},
  "stroke": {"field": "g", "type": "nominal", "scale": {"domain": ["r","g","b"], "range": ["#F8766D","#00BA38","#619CFF"]}, "legend": null}
 }},
{"data": {"name": "st"}, "transform": [{"filter": "datum.p=='A'"}],
 "mark": {"type": "errorbar", "ticks": {"size": 5}, "thickness": 1.2},
 "encoding": {
  "x": {"field": "x", "type": "quantitative", "title": "(disassortative weight - local adaptation fitness)"},
  "y": {"field": "lo", "type": "quantitative", "title": "synonymous"},
  "y2": {"field": "hi"},
  "color": {"field": "g", "type": "nominal", "scale": {"domain": ["r","g","b"], "range": ["#F8766D","#00BA38","#619CFF"]}, "legend": null}
 }},
{"data": {"values": [{"t": "A - Assortative Mating"}]},
 "mark": {"type": "text", "align": "left", "baseline": "alphabetic", "fontSize": 18.3, "fontWeight": "bold", "color": "#000000"},
 "encoding": {"x": {"datum": 0.47}, "y": {"datum": 0.0331}, "text": {"field": "t"}}},
{"data": {"values": [{"t": "π"}]},
 "mark": {"type": "text", "align": "left", "baseline": "alphabetic", "angle": 270, "fontSize": 19, "color": "#000000"},
 "encoding": {"x": {"datum": -0.226}, "y": {"datum": 0.01117}, "text": {"field": "t"}}}
]
},
{
"width": 570, "height": 399,
"layer": [
{"data": {"name": "st"}, "transform": [{"filter": "datum.p=='B'"}],
 "mark": {"type": "line", "color": "#A9A9A9", "strokeWidth": 2.8},
 "encoding": {
  "x": {"field": "x", "type": "quantitative", "title": "(disassortative weight - local adaptation fitness)", "scale": {"domain": [0.4, 9.55], "nice": false, "zero": false},
        "axis": {"values": [1,2,3,4,5,6,7,8,9], "labelExpr": "['(0.5-0.5)','(0.5-0.25)','(0.5-0)','(0.75-0.5)','(0.75-0.25)','(0.75-0)','(1-0.5)','(1-0.25)','(1-0)'][datum.value-1]", "labelFlush": false, "labelOverlap": false}},
  "y": {"field": "m", "type": "quantitative", "title": "synonymous", "scale": {"domain": [-0.00164, 0.03474], "nice": false, "zero": false},
        "axis": {"values": [0,0.005,0.01,0.015,0.02,0.025,0.03], "labelExpr": "round(datum.value*200)%2==0 ? format(datum.value,'.2f') : ''",
                 "tickColor": {"condition": {"test": "round(datum.value*200)%2==1", "value": "transparent"}, "value": "#333333"},
                 "gridWidth": {"condition": {"test": "round(datum.value*200)%2==1", "value": 0.6}, "value": 1.1}}},
  "detail": {"field": "g"}
 }},
{"data": {"name": "pts"}, "transform": [{"filter": "datum.p=='B'"}],
 "mark": {"type": "circle", "size": 85, "strokeWidth": 1.3, "fillOpacity": 0.85, "strokeOpacity": 1},
 "encoding": {
  "x": {"field": "x", "type": "quantitative", "title": "(disassortative weight - local adaptation fitness)"},
  "y": {"field": "y", "type": "quantitative", "title": "synonymous"},
  "fill": {"field": "g", "type": "nominal", "scale": {"domain": ["r","g","b"], "range": ["#440154","#3B528B","#21908C"]}, "legend": null},
  "stroke": {"field": "g", "type": "nominal", "scale": {"domain": ["r","g","b"], "range": ["#F8766D","#00BA38","#619CFF"]}, "legend": null}
 }},
{"data": {"name": "st"}, "transform": [{"filter": "datum.p=='B'"}],
 "mark": {"type": "errorbar", "ticks": {"size": 5}, "thickness": 1.2},
 "encoding": {
  "x": {"field": "x", "type": "quantitative", "title": "(disassortative weight - local adaptation fitness)"},
  "y": {"field": "lo", "type": "quantitative", "title": "synonymous"},
  "y2": {"field": "hi"},
  "color": {"field": "g", "type": "nominal", "scale": {"domain": ["r","g","b"], "range": ["#F8766D","#00BA38","#619CFF"]}, "legend": null}
 }},
{"data": {"values": [{"t": "B - Disassortative Mating"}]},
 "mark": {"type": "text", "align": "left", "baseline": "alphabetic", "fontSize": 18.3, "fontWeight": "bold", "color": "#000000"},
 "encoding": {"x": {"datum": 0.47}, "y": {"datum": 0.0331}, "text": {"field": "t"}}},
{"data": {"values": [{"t": "π"}]},
 "mark": {"type": "text", "align": "left", "baseline": "alphabetic", "angle": 270, "fontSize": 19, "color": "#000000"},
 "encoding": {"x": {"datum": -0.226}, "y": {"datum": 0.01117}, "text": {"field": "t"}}}
]
}
]
},
{
"width": 1205, "height": 42,
"view": {"stroke": null},
"layer": [
{"data": {"values": [{"a": 2.1, "b": 43.2}, {"a": 55.0, "b": 96.3}]},
 "mark": {"type": "rule", "strokeWidth": 5, "color": "#000000"},
 "encoding": {
  "x": {"field": "a", "type": "quantitative", "scale": {"domain": [0, 100], "nice": false, "zero": false}, "axis": null},
  "x2": {"field": "b"},
  "y": {"datum": 0.53, "type": "quantitative", "scale": {"domain": [0, 1], "nice": false, "zero": false}, "axis": null}
 }},
{"data": {"values": [{"a": 0.5, "s": "L"}, {"a": 97.5, "s": "R"}]},
 "mark": {"type": "point", "filled": true, "size": 3600, "color": "#000000", "opacity": 1},
 "encoding": {
  "x": {"field": "a", "type": "quantitative"},
  "y": {"datum": 0.53, "type": "quantitative"},
  "shape": {"field": "s", "type": "nominal", "scale": {"domain": ["L","R"], "range": ["M-1,0L1,-0.72L0.6,0L1,0.72Z", "M1,0L-1,-0.72L-0.6,0L-1,0.72Z"]}, "legend": null}
 }},
{"data": {"values": [{"a": 49.1, "b": 0.48, "t": "random mating"}, {"a": 23.75, "b": 0.3, "t": "strength of assortative mating"}, {"a": 76.0, "b": 0.25, "t": "strength of disassortative mating"}]},
 "mark": {"type": "text", "fontSize": 15.5, "color": "#000000", "baseline": "middle"},
 "encoding": {
  "x": {"field": "a", "type": "quantitative"},
  "y": {"field": "b", "type": "quantitative"},
  "text": {"field": "t"}
 }}
]
}
]
}
